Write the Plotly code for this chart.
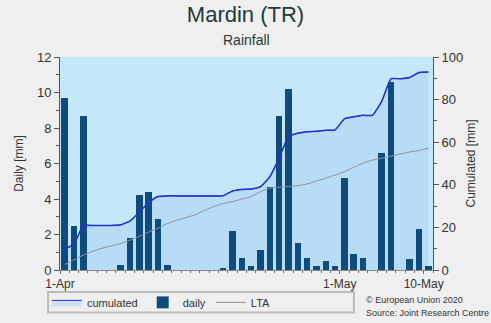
import plotly.graph_objects as go
import pandas as pd
import numpy as np

# ---- data ----
days = pd.date_range("2020-04-01", "2020-05-10", freq="D")
daily = [9.7, 2.5, 8.7, 0, 0, 0, 0.3, 1.8, 4.2, 4.4,
         2.9, 0.3, 0, 0, 0, 0, 0, 0.1, 2.2, 0.7,
         0.2, 1.1, 4.7, 8.7, 10.2, 1.5, 0.7, 0.2, 0.5, 0.2,
         5.2, 0.9, 0.7, 0, 6.6, 10.6, 0, 0.6, 2.3, 0.2]
lta = [2.5, 4.8, 7.0, 8.8, 10.2, 11.3, 12.4, 14.0, 15.8, 17.8,
       19.6, 21.8, 23.3, 24.6, 25.9, 28.0, 29.8, 31.2, 32.1, 33.3,
       34.5, 36.8, 38.4, 38.9, 39.2, 39.6, 40.4, 41.8, 43.1, 44.6,
       46.2, 48.2, 50.2, 51.6, 52.5, 53.5, 54.5, 55.4, 56.1, 57.2]
tick_dates = ["2020-04-01", "2020-05-01", "2020-05-10"]
tick_labels = ["1-Apr", "1-May", "10-May"]

cumulated = np.cumsum(daily)
centers = days + pd.Timedelta(hours=12)

FONT = "Liberation Sans, Arial, sans-serif"
TXT = "#333333"
CUM = "#2231d1"

fig = go.Figure()
# base axis (y): cumulated fill, right side
fig.add_trace(go.Scatter(
    x=centers, y=cumulated, name="cumulated", yaxis="y",
    mode="lines", line=dict(color=CUM, width=1, shape="spline", smoothing=0.4),
    fill="tozeroy", fillcolor="rgba(170,210,242,0.5)"))
# overlay y2: daily bars, left side
fig.add_trace(go.Bar(
    x=centers, y=daily, name="daily", yaxis="y2",
    marker=dict(color="#0f4c7b", line=dict(width=0)),
    width=0.7 * 86400000))
# overlay y3 (same scale as cumulated): lines on top
fig.add_trace(go.Scatter(
    x=centers, y=lta, name="LTA", yaxis="y3", mode="lines",
    line=dict(color="#8c9196", width=1, shape="spline", smoothing=0.6)))
fig.add_trace(go.Scatter(
    x=centers, y=cumulated, yaxis="y3", mode="lines", showlegend=False,
    line=dict(color=CUM, width=1.5, shape="spline", smoothing=0.4), hoverinfo="skip"))

axis_common = dict(ticks="outside", ticklen=5, tickcolor="#555", showgrid=False,
                   showline=True, linecolor="#555", linewidth=1, zeroline=False,
                   tickfont=dict(size=13, color=TXT))

fig.update_layout(
    width=491, height=323,
    margin=dict(l=60, r=58, t=57, b=53, autoexpand=False),
    paper_bgcolor="#efefef", plot_bgcolor="#c4e8fa",
    font=dict(family=FONT, size=13, color=TXT),
    showlegend=True,
    bargap=0,
    title=dict(text="Mardin (TR)", x=0.5, xanchor="center", y=0.955, yanchor="middle",
               font=dict(size=22, color="#1d3a3c", family=FONT)),
    xaxis=dict(type="date", range=["2020-04-01", "2020-05-11"],
               tickmode="array", tickvals=tick_dates, ticktext=tick_labels,
               ticks="outside", ticklen=3, tickcolor="#666", showgrid=False,
               showline=True, linecolor="#888", linewidth=1, zeroline=False,
               tickfont=dict(size=12, color=TXT),
               minor=dict(ticks="outside", ticklen=2, tickcolor="#777",
                          tickmode="linear", tick0="2020-04-01", dtick=86400000, showgrid=False)),
    yaxis=dict(range=[0, 100], side="right", tickmode="linear", tick0=0, dtick=20,
               title=dict(text="Cumulated [mm]", font=dict(size=12, color=TXT), standoff=4),
               minor=dict(ticks="outside", ticklen=3, tickcolor="#555", dtick=10),
               **axis_common),
    yaxis2=dict(range=[0, 12], overlaying="y", side="left", tickmode="linear",
                tick0=0, dtick=2,
                title=dict(text="Daily [mm]", font=dict(size=12, color=TXT), standoff=10),
                minor=dict(ticks="outside", ticklen=3, tickcolor="#555", dtick=1),
                **axis_common),
    yaxis3=dict(range=[0, 100], overlaying="y", visible=False),
    legend=dict(orientation="h", x=-0.035, xanchor="left", y=-0.152, yanchor="middle",
                bgcolor="rgba(0,0,0,0)", borderwidth=0,
                font=dict(size=11, color=TXT), itemwidth=30, tracegroupgap=0),
)

# legend frame
fig.add_shape(type="rect", xref="paper", yref="paper",
              x0=-0.032, x1=0.788, y0=-0.2, y1=-0.103,
              line=dict(color="#bbbbbb", width=2), fillcolor="rgba(0,0,0,0)", layer="below")

fig.add_annotation(text="Rainfall", xref="paper", yref="paper", x=0.5, y=1.08,
                   xanchor="center", yanchor="middle", showarrow=False,
                   font=dict(size=14, color="#1d3a3c"))
fig.add_annotation(text="© European Union 2020", xref="paper", yref="paper",
                   x=0.815, y=-0.14, xanchor="left", yanchor="middle", showarrow=False,
                   font=dict(size=9, color=TXT))
fig.add_annotation(text="Source: Joint Research Centre", xref="paper", yref="paper",
                   x=0.815, y=-0.2, xanchor="left", yanchor="middle", showarrow=False,
                   font=dict(size=9, color=TXT))

fig.write_html("out.html")
